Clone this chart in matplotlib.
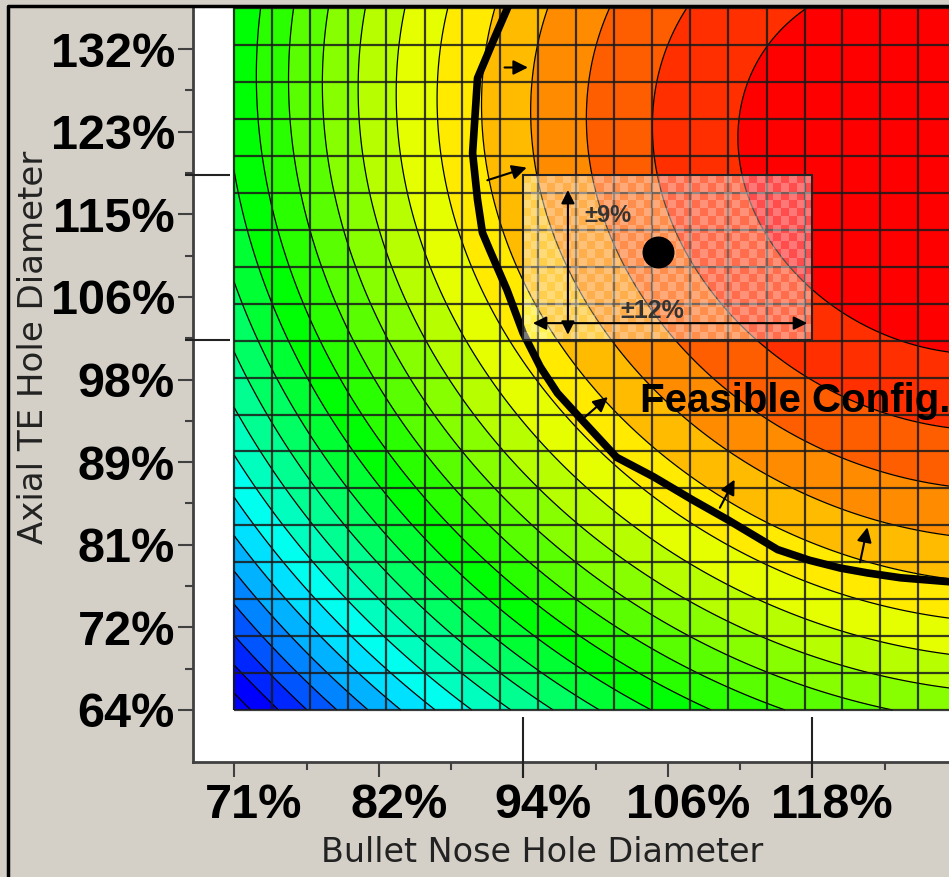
import numpy as np
import matplotlib
matplotlib.use('Agg')
import matplotlib.pyplot as plt
from matplotlib.colors import hsv_to_rgb
from matplotlib.patches import Rectangle
from matplotlib.transforms import ScaledTranslation

plt.rcParams['font.family'] = ['Liberation Sans', 'DejaVu Sans']

# axis ticks, percent of baseline hole diameter
x_ticks = [70.6, 82.4, 94.1, 105.9, 117.6]
x_tick_labels = ['71%', '82%', '94%', '106%', '118%']
y_ticks = [63.9, 72.4, 80.9, 89.4, 97.9, 106.4, 114.9, 123.4, 131.9]
y_tick_labels = ['64%', '72%', '81%', '89%', '98%', '106%', '115%', '123%', '132%']

# design mesh nodes
x_nodes = [70.6, 73.7, 76.8, 79.9, 83.0, 86.1, 89.1, 92.2, 95.3, 98.4,
           101.5, 104.6, 107.7, 110.8, 113.9, 117.0, 120.0, 123.1, 126.2, 129.3]
y_nodes = [63.9, 67.7, 71.5, 75.3, 79.1, 82.9, 86.7, 90.5, 94.3, 98.1,
           101.9, 105.7, 109.5, 113.3, 117.1, 120.9, 124.7, 128.5, 132.3, 136.1]

# quadratic response surface, in contour steps
peak_x, peak_y = 128.8, 120.0
spread_x, spread_y = 16.8, 19.0
interaction = 9e-4
level_offset = -0.03
n_bands = 25

# feasibility boundary
feas_x = [92.9, 91.7, 90.4, 90.0, 90.4, 90.8, 91.4, 92.8, 94.1, 95.5, 96.9, 98.7,
          101.7, 104.7, 107.9, 110.7, 114.8, 117.4, 119.9, 122.1, 124.8, 128.7, 129.3]
feas_y = [136.3, 132.8, 128.9, 121.2, 116.4, 113.0, 111.2, 107.1, 102.7, 99.2, 96.5, 94.0,
          89.9, 87.9, 85.5, 83.5, 80.4, 79.3, 78.5, 78.0, 77.5, 77.1, 77.0]

# arrows pointing into the feasible side (tail x, tail y, head x, head y)
feas_arrows = [(92.6, 130.0, 94.5, 130.0),
               (91.2, 118.4, 94.4, 119.7),
               (99.1, 94.0, 101.0, 96.1),
               (110.1, 84.7, 111.3, 87.6),
               (121.5, 79.1, 122.1, 82.7)]

# nominal design point and tolerance box
nominal_x, nominal_y = 105.1, 111.0
box_x = [94.1, 117.6]
box_y = [102.0, 118.9]

fig = plt.figure(figsize=(9.49, 8.77), dpi=100, facecolor='#d4d0c8')
ax = fig.add_axes([193/949, (877-762)/877, (956-193)/949, (762-8)/877])
ax.set_facecolor('white')

# response surface
xf = np.linspace(x_nodes[0], x_nodes[-1], 500)
yf = np.linspace(y_nodes[0], y_nodes[-1], 500)
X, Y = np.meshgrid(xf, yf)
dx, dy = X - peak_x, Y - peak_y
K = (dx/spread_x)**2 + (dy/spread_y)**2 + interaction*dx*dy + level_offset
levels = np.arange(0, n_bands+1).astype(float)
levels[0] = K.min() - 1.0
band_colors = [hsv_to_rgb((min(11*b, 240)/360, 1, 1)) for b in range(n_bands)]
ax.contourf(X, Y, K, levels=levels, colors=band_colors, zorder=1)
ax.contour(X, Y, K, levels=levels[1:], colors='black', linewidths=0.9, zorder=2)

# mesh
ax.vlines(x_nodes, y_nodes[0], y_nodes[-1], color='#1a1a1a', lw=1.6, alpha=0.85, zorder=3)
ax.hlines(y_nodes, x_nodes[0], x_nodes[-1], color='#1a1a1a', lw=1.6, alpha=0.85, zorder=3)

# feasibility boundary and arrows
ax.plot(feas_x, feas_y, color='black', lw=5.5, solid_capstyle='butt', zorder=4)
for tx, ty, hx, hy in feas_arrows:
    ax.annotate('', xy=(hx, hy), xytext=(tx, ty),
                arrowprops=dict(arrowstyle='-|>', color='black', lw=1.5,
                                mutation_scale=22, shrinkA=0, shrinkB=0), zorder=5)
ax.text(103.6, 94.6, 'Feasible Config.', fontsize=29, fontweight='bold',
        color='black', va='baseline', ha='left', zorder=6)

# tolerance box, dithered like the original overlay
ax.add_patch(Rectangle((box_x[0], box_y[0]), box_x[1]-box_x[0], box_y[1]-box_y[0],
                       facecolor=(1, 1, 1, 0.3), edgecolor='none', zorder=6))
ni, nj = 36, 20
checker = np.zeros((nj, ni, 4))
checker[..., :3] = 1.0
checker[..., 3] = np.where((np.add.outer(np.arange(nj), np.arange(ni)) % 2) == 0, 0.25, 0.0)
ax.imshow(checker, extent=(box_x[0], box_x[1], box_y[0], box_y[1]), origin='lower',
          interpolation='nearest', aspect='auto', zorder=6)
ax.add_patch(Rectangle((box_x[0], box_y[0]), box_x[1]-box_x[0], box_y[1]-box_y[0],
                       fill=False, edgecolor='#222222', lw=1.5, zorder=6))
ax.annotate('', xy=(97.75, 117.4), xytext=(97.75, 102.5),
            arrowprops=dict(arrowstyle='<|-|>', color='black', lw=1.5,
                            mutation_scale=20, shrinkA=0, shrinkB=0), zorder=7)
ax.annotate('', xy=(94.9, 103.7), xytext=(117.2, 103.7),
            arrowprops=dict(arrowstyle='<|-|>', color='black', lw=1.5,
                            mutation_scale=20, shrinkA=0, shrinkB=0), zorder=7)
ax.text(99.1, 114.8, '±9%', fontsize=17, fontweight='bold', color='#333333',
        va='center', ha='left', zorder=7)
ax.text(102.0, 104.9, '±12%', fontsize=18, fontweight='bold', color='#333333',
        va='center', ha='left', zorder=7)
ax.plot(nominal_x, nominal_y, 'o', color='black', markersize=22, zorder=8)

# tolerance markers on the axes
ax.hlines(box_y, 66.6, 70.3, color='#222222', lw=1.5, clip_on=False, zorder=8)
ax.vlines(box_x, 56.9, 63.2, color='#222222', lw=1.5, clip_on=False, zorder=8)

ax.set_xlim(67.27, 129.3)
ax.set_ylim(58.55, 136.12)
ax.set_xticks(x_ticks)
ax.set_xticklabels(x_tick_labels)
ax.set_yticks(y_ticks)
ax.set_yticklabels(y_tick_labels)
x_minor = [(a+b)/2 for a, b in zip(x_ticks[:-1], x_ticks[1:])] + [123.5]
y_minor = [(a+b)/2 for a, b in zip(y_ticks[:-1], y_ticks[1:])]
ax.set_xticks(x_minor, minor=True)
ax.set_yticks(y_minor, minor=True)
ax.tick_params(which='major', length=11, width=1.5, color='#404040', labelsize=35)
ax.tick_params(which='minor', length=6, width=1.5, color='#404040')
ax.tick_params(axis='x', pad=4)
ax.tick_params(axis='y', pad=2)
shift = ScaledTranslation(0.2, 0, fig.dpi_scale_trans)
for lab in ax.get_xticklabels():
    lab.set_fontweight('bold')
    lab.set_transform(lab.get_transform() + shift)
for lab in ax.get_yticklabels():
    lab.set_fontweight('bold')

for side in ['top', 'right']:
    ax.spines[side].set_visible(False)
for side in ['left', 'bottom']:
    ax.spines[side].set_color('#404040')
    ax.spines[side].set_linewidth(2)

ax.set_xlabel('Bullet Nose Hole Diameter', fontsize=24, color='#222222', family='DejaVu Sans')
ax.xaxis.set_label_coords((542-193)/763, (762-852)/754)
ax.xaxis.label.set_va('center')
ax.set_ylabel('Axial TE Hole Diameter', fontsize=24.5, color='#222222', family='DejaVu Sans')
ax.yaxis.set_label_coords((33-193)/763, (762-347)/754)
ax.yaxis.label.set_va('center')

# window frame (left and top edges)
fig.add_artist(plt.Line2D([8/949, 8/949, 1.0], [0.0, 871/877, 871/877],
                          transform=fig.transFigure, color='black', lw=2.5))

fig.savefig('out.png', dpi=100, facecolor=fig.get_facecolor())
